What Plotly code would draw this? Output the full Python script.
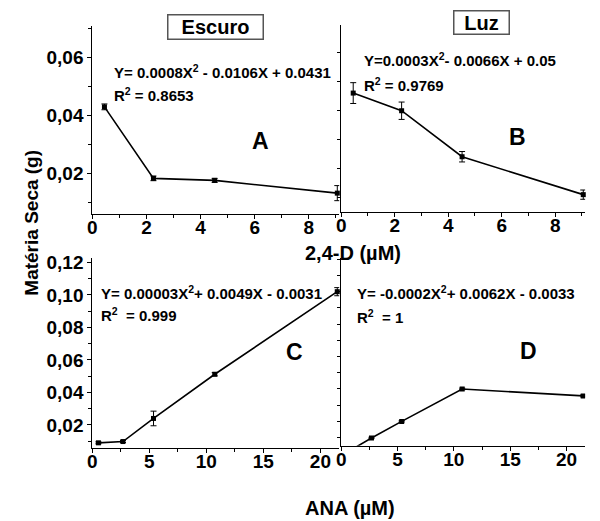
import plotly.graph_objects as go

# ---------------- data ----------------
x_24d = [0.45, 2.26, 4.52, 9.05]
escuro_24d = [0.0430, 0.0183, 0.0176, 0.0132]
escuro_24d_err = [0.0010, 0.0008, 0.0007, 0.0026]
luz_24d = [0.0461, 0.0400, 0.0241, 0.0110]
luz_24d_err = [0.0036, 0.0030, 0.0018, 0.0016]

x_ana = [0.54, 2.69, 5.37, 10.74, 21.48]
escuro_ana = [0.0090, 0.0098, 0.0240, 0.0512, 0.1020]
escuro_ana_err = [0.0006, 0.0006, 0.0045, 0.0010, 0.0025]
luz_ana = [0.0010, 0.0098, 0.0200, 0.0400, 0.0357]
luz_ana_err = [0.0, 0.0004, 0.0004, 0.0005, 0.0006]

eq_texts = [
    "Y= 0.0008X<sup>2</sup> - 0.0106X + 0.0431",
    "Y=0.0003X<sup>2</sup>- 0.0066X + 0.05",
    "Y= 0.00003X<sup>2</sup>+ 0.0049X - 0.0031",
    "Y= -0.0002X<sup>2</sup>+ 0.0062X - 0.0033",
]
r2_texts = ["R<sup>2</sup> = 0.8653", "R<sup>2</sup> = 0.9769",
            "R<sup>2</sup>  = 0.999", "R<sup>2</sup>  = 1"]
panel_letters = ["A", "B", "C", "D"]

W, H = 600, 521
FONT = "Liberation Sans"


def px(x):
    return x / W


def py(y):
    return 1 - y / H


fig = go.Figure()

series = [
    (x_24d, escuro_24d, escuro_24d_err, "x", "y", False),
    (x_24d, luz_24d, luz_24d_err, "x2", "y2", False),
    (x_ana, escuro_ana, escuro_ana_err, "x3", "y3", False),
    (x_ana, luz_ana, luz_ana_err, "x4", "y4", True),
]
for xs, ys, es, xa, ya, clip in series:
    fig.add_trace(go.Scatter(
        x=xs, y=ys, xaxis=xa, yaxis=ya, mode="lines+markers",
        line=dict(color="black", width=1.6),
        marker=dict(color="black", size=5, symbol="square"),
        error_y=dict(type="data", array=es, visible=True, color="black",
                     thickness=1, width=3),
        cliponaxis=clip, showlegend=False, hoverinfo="skip",
    ))


def axis(ticklen=4, **kw):
    d = dict(
        showline=True, linecolor="black", linewidth=1, ticks="outside",
        tickcolor="black", ticklen=ticklen, showgrid=False, zeroline=False,
        tickfont=dict(family=FONT, size=19, color="black", weight="bold"),
    )
    d.update(kw)
    return d


def minor(dt):
    return dict(dtick=dt, ticklen=3, ticks="outside", tickcolor="black")


XSO = -8  # pull x tick labels closer to the axis line

fig.update_layout(
    width=W, height=H, margin=dict(l=0, r=0, t=0, b=0),
    paper_bgcolor="white", plot_bgcolor="white",
    separators=",.",
    font=dict(family=FONT, color="black"),
    xaxis=axis(domain=[px(88), px(337)], range=[0, 9.12], dtick=2, tick0=0,
               minor=minor(1), anchor="y", ticklabelstandoff=XSO),
    xaxis2=axis(domain=[px(339), px(585)], range=[0, 9.12], dtick=2, tick0=0,
                minor=minor(1), anchor="y2", ticklabelstandoff=XSO),
    xaxis3=axis(domain=[px(88), px(337)], range=[0, 21.65], dtick=5, tick0=0,
                minor=minor(2.5), anchor="y3", ticklabelstandoff=XSO),
    xaxis4=axis(domain=[px(339), px(585)], range=[0, 21.65], dtick=5, tick0=0,
                minor=minor(2.5), anchor="y4", ticklabelstandoff=XSO),
    yaxis=axis(domain=[py(211), py(21)], range=[0.006, 0.071],
               dtick=0.02, tick0=0, tickformat=".2f", minor=minor(0.01), anchor="x"),
    yaxis2=axis(ticklen=3, domain=[py(209), py(20)], range=[0.005, 0.0697],
                dtick=0.01, tick0=0, showticklabels=False, anchor="x2"),
    yaxis3=axis(domain=[py(447), py(255)], range=[0.006, 0.123],
                dtick=0.02, tick0=0, tickformat=".2f", minor=minor(0.01), anchor="x3"),
    yaxis4=axis(ticklen=3, domain=[py(445), py(255)], range=[0.005, 0.121],
                dtick=0.01, tick0=0, showticklabels=False, anchor="x4"),
)

ann = []
eq_pos = [(108, 67, 90), (360, 55, 80), (95, 290, 312), (353, 290, 315)]
for (x0, ye, yr), eq, r2 in zip(eq_pos, eq_texts, r2_texts):
    ann.append(dict(x=px(x0), y=py(ye), xref="paper", yref="paper", text=eq,
                    showarrow=False, xanchor="left", yanchor="middle",
                    font=dict(family=FONT, size=15, color="black", weight="bold")))
    ann.append(dict(x=px(x0), y=py(yr), xref="paper", yref="paper", text=r2,
                    showarrow=False, xanchor="left", yanchor="middle",
                    font=dict(family=FONT, size=15, color="black", weight="bold")))

letter_pos = [(258, 137), (517, 133), (292, 350), (528, 349)]
for (lx, ly), L in zip(letter_pos, panel_letters):
    ann.append(dict(x=px(lx), y=py(ly), xref="paper", yref="paper", text=L,
                    showarrow=False, xanchor="center", yanchor="middle",
                    font=dict(family=FONT, size=23, color="black", weight="bold")))

# panel titles (boxed)
ann.append(dict(x=px(212), y=py(22), xref="paper", yref="paper", text="Escuro",
                showarrow=False, xanchor="center", yanchor="middle", width=92, height=21,
                bordercolor="#555", borderwidth=1.5, borderpad=1, bgcolor="white",
                font=dict(family=FONT, size=20, color="black", weight="bold")))
ann.append(dict(x=px(481), y=py(18), xref="paper", yref="paper", text="Luz",
                showarrow=False, xanchor="center", yanchor="middle", width=52, height=20,
                bordercolor="#555", borderwidth=1.5, borderpad=1, bgcolor="white",
                font=dict(family=FONT, size=20, color="black", weight="bold")))

# axis titles
ann.append(dict(x=px(351), y=py(250), xref="paper", yref="paper", text="2,4-D (µM)",
                showarrow=False, xanchor="center", yanchor="middle",
                font=dict(family=FONT, size=20, color="black", weight="bold")))
ann.append(dict(x=px(348), y=py(508), xref="paper", yref="paper", text="ANA (µM)",
                showarrow=False, xanchor="center", yanchor="middle",
                font=dict(family=FONT, size=20, color="black", weight="bold")))
ann.append(dict(x=px(27), y=py(220), xref="paper", yref="paper", text="Matéria Seca (g)",
                showarrow=False, xanchor="center", yanchor="middle", textangle=-90,
                font=dict(family=FONT, size=19, color="black", weight="bold")))

fig.update_layout(annotations=ann)

fig.write_html("out.html", config={"displayModeBar": False},
               post_script="document.body.style.margin='0';")
